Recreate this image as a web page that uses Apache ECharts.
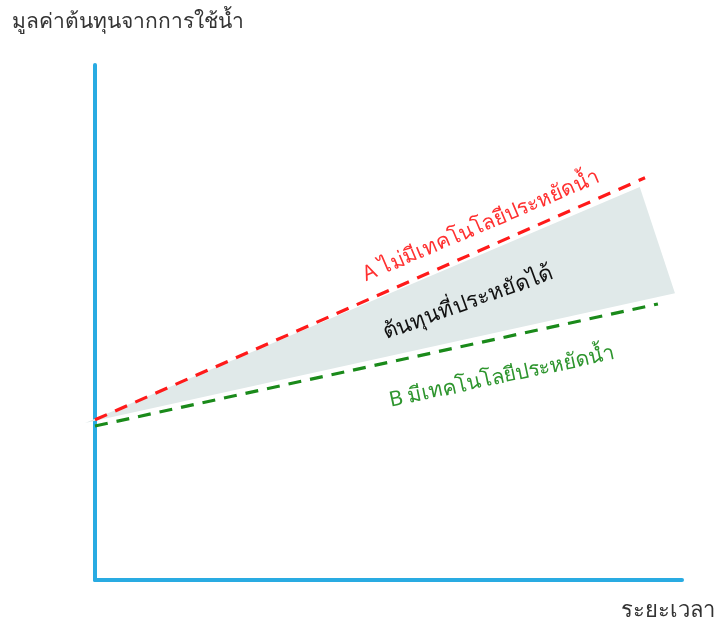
<!DOCTYPE html>
<html>
<head>
<meta charset="utf-8">
<script src="https://cdn.jsdelivr.net/npm/echarts@6/dist/echarts.min.js"></script>
<style>
  html, body { margin: 0; padding: 0; background: #fff; }
  #chart { width: 720px; height: 629px; }
</style>
</head>
<body>
<div id="chart"></div>
<script>
// ข้อมูล (หน่วยสมมติ 0-100 บนทั้งสองแกน)
const noTechX = [0, 93.7];
const noTechY = [31.1, 78.1];
const techX = [0, 95.9];
const techY = [29.9, 53.6];
const savedX = [-1.7, 92.8, 98.8];
const savedY = [30.5, 76.3, 55.7];

const yName = 'มูลค่าต้นทุนจากการใช้น้ำ';
const xName = 'ระยะเวลา';
const noTechLabel = 'A ไม่มีเทคโนโลยีประหยัดน้ำ';
const techLabel = 'B มีเทคโนโลยีประหยัดน้ำ';
const savedLabel = 'ต้นทุนที่ประหยัดได้';

const FONT = '"Noto Sans", "DejaVu Sans", sans-serif';
const axisColor = '#29abe2';

const pairs = (xs, ys) => xs.map((x, i) => [x, ys[i]]);
const deg = d => d * Math.PI / 180;

const chart = echarts.init(document.getElementById('chart'));

const axisBase = {
  type: 'value',
  min: 0,
  max: 100,
  axisLine: { show: true, lineStyle: { color: axisColor, width: 4 } },
  axisTick: { show: false },
  axisLabel: { show: false },
  splitLine: { show: false }
};

const option = {
  animation: false,
  grid: { left: 95, right: 38, top: 65, bottom: 49 },
  xAxis: axisBase,
  yAxis: axisBase,
  series: [
    {
      // พื้นที่ต้นทุนที่ประหยัดได้
      type: 'custom',
      z: 1,
      data: pairs(savedX, savedY),
      renderItem: (params, api) => {
        if (params.dataIndex !== 0) return;
        const pts = pairs(savedX, savedY).map(p => api.coord(p));
        return {
          type: 'polygon',
          shape: { points: pts },
          style: { fill: '#e0e9e9' }
        };
      }
    },
    {
      type: 'line',
      z: 3,
      data: pairs(noTechX, noTechY),
      symbol: 'none',
      lineStyle: { color: '#ff1a1a', width: 3.2, type: [13, 9] }
    },
    {
      type: 'line',
      z: 3,
      data: pairs(techX, techY),
      symbol: 'none',
      lineStyle: { color: '#1a8a1a', width: 3.2, type: [13, 9] }
    }
  ],
  graphic: {
    elements: [
      {
        type: 'text', left: 12, top: 12, z: 10,
        style: { text: yName, font: '21px ' + FONT, fill: '#333' }
      },
      {
        type: 'text', right: 5, top: 600, z: 10,
        style: { text: xName, font: '22px ' + FONT, fill: '#333' }
      },
      {
        type: 'text', x: 481, y: 226, rotation: deg(23), z: 10,
        style: { text: noTechLabel, font: '21px ' + FONT, fill: '#ff3030', align: 'center', verticalAlign: 'middle' }
      },
      {
        type: 'text', x: 468, y: 303, rotation: deg(20), z: 10,
        style: { text: savedLabel, font: '500 22px ' + FONT, fill: '#111', align: 'center', verticalAlign: 'middle' }
      },
      {
        type: 'text', x: 502, y: 377, rotation: deg(12), z: 10,
        style: { text: techLabel, font: '21px ' + FONT, fill: '#2e952e', align: 'center', verticalAlign: 'middle' }
      }
    ]
  }
};

chart.setOption(option);
</script>
</body>
</html>
